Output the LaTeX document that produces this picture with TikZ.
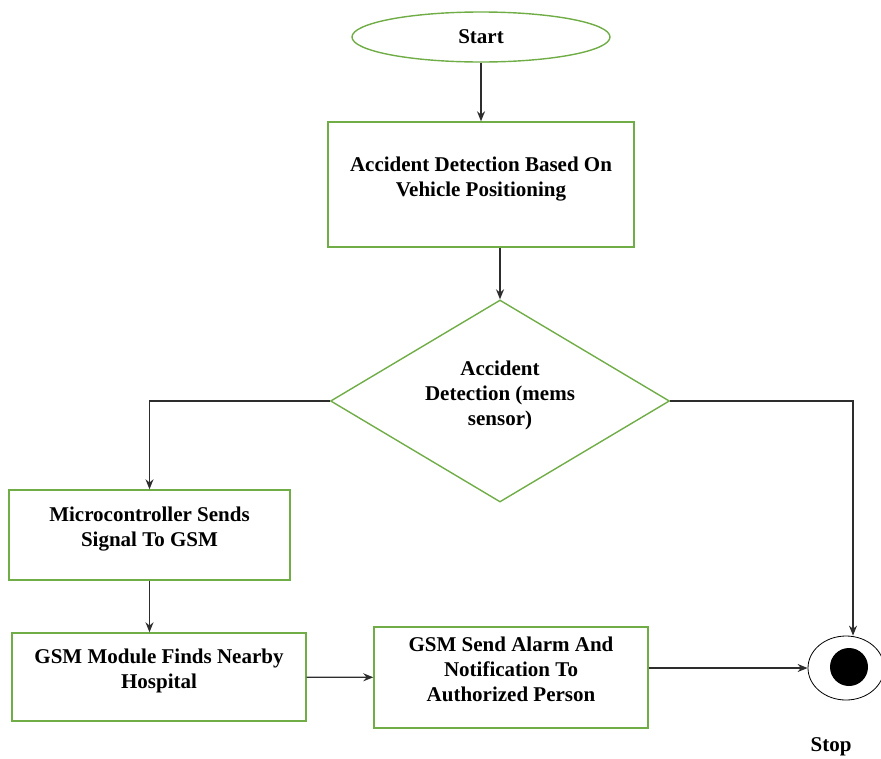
\documentclass[tikz,border=0pt]{standalone}
\usepackage{fontspec}
\setmainfont{Liberation Serif}
\usetikzlibrary{shapes.geometric,arrows.meta}
\definecolor{boxgreen}{RGB}{112,173,71}
\definecolor{linegray}{RGB}{45,45,45}

\begin{document}
\begin{tikzpicture}[x=1pt, y=-1pt, >={Stealth[length=10pt,width=8pt]}]
        % Define node styles
        \tikzset{
            flow/.style={draw=boxgreen, line width=1.4pt, align=center, inner sep=0pt,
                font=\bfseries\fontsize{21}{25}\selectfont},
            box/.style={flow, rectangle},
            decision/.style={flow, diamond, aspect=1.7},
            terminal/.style={flow, ellipse},
            link/.style={->, draw=linegray, line width=1.3pt}
        }
        \useasboundingbox (0,0) rectangle (881,758);

        % Start and first step
        \node [terminal, minimum width=258pt, minimum height=50pt] (start) at (481,37) {Start};
        \node [box, minimum width=306pt, minimum height=125pt] (detect) at (481,184.5)
            {Accident Detection Based On\\Vehicle Positioning\\[-9pt]\mbox{}};

        % Decision
        \node [decision, minimum width=339pt, minimum height=202pt] (sensor) at (500,401)
            {Accident\\Detection (mems\\sensor)\\[-9pt]\mbox{}};

        % Left branch
        \node [box, minimum width=281pt, minimum height=90pt] (micro) at (149.5,535)
            {Microcontroller Sends\\Signal To GSM\\[-9pt]\mbox{}};
        \node [box, minimum width=294pt, minimum height=88pt] (hospital) at (159,677)
            {GSM Module Finds Nearby\\Hospital\\[-9pt]\mbox{}};
        \node [box, minimum width=274pt, minimum height=101pt] (alarm) at (511,677.5)
            {GSM Send Alarm And\\Notification To\\Authorized Person\\[-9pt]\mbox{}};

        % Stop symbol
        \node [ellipse, draw=black, line width=0.8pt, minimum width=76pt, minimum height=64pt] (stop) at (846,668) {};
        \node [circle, fill=black, inner sep=0pt, minimum size=38pt] (stopdot) at (849,667) {};
        \node [font=\bfseries\fontsize{21}{25}\selectfont] (stoplabel) at (831,747) {Stop};

        % Connectors
        \draw [link] (start) -- (detect);
        \draw [link] (detect.south -| sensor.north) -- (sensor.north);
        \draw [link] (sensor.west) -| (micro.north);
        \draw [link] (sensor.east) -| ([xshift=7pt]stop.north);
        \draw [link] (micro.south) -- (micro.south |- hospital.north);
        \draw [link] (hospital) -- (alarm);
        \draw [link] (alarm.east |- stop.west) -- (stop.west);
    \end{tikzpicture}
\end{document}
